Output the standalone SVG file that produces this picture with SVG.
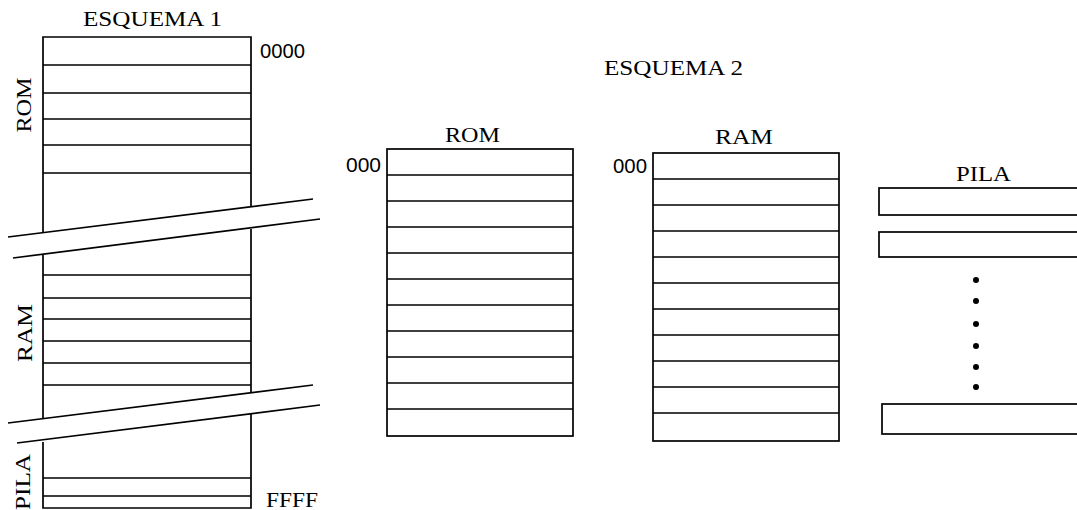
<svg xmlns="http://www.w3.org/2000/svg" width="1077" height="510" viewBox="0 0 1077 510">
<style>
.ln{stroke:#000;stroke-width:1.7;fill:none}
.bx{stroke:#000;stroke-width:1.7;fill:#fff}
.sf{font-family:"Liberation Serif",serif;font-size:22px;fill:#000}
.ss{font-family:"Liberation Sans",sans-serif;font-size:21px;fill:#000}
</style>
<rect width="1077" height="510" fill="#fff"/>
<g id="esquema1">
<text class="sf" x="83" y="26" textLength="139" lengthAdjust="spacingAndGlyphs">ESQUEMA 1</text>
<text class="ss" x="260" y="58" textLength="45" lengthAdjust="spacingAndGlyphs">0000</text>
<text class="sf" x="266" y="507" textLength="52" lengthAdjust="spacingAndGlyphs">FFFF</text>
<text class="sf" transform="translate(31,105) rotate(-90)" text-anchor="middle" textLength="55" lengthAdjust="spacingAndGlyphs">ROM</text>
<text class="sf" transform="translate(32,333) rotate(-90)" text-anchor="middle" textLength="58" lengthAdjust="spacingAndGlyphs">RAM</text>
<text class="sf" transform="translate(30,482) rotate(-90)" text-anchor="middle" textLength="56" lengthAdjust="spacingAndGlyphs">PILA</text>
<path class="ln" d="M43,232 V37 H251 V207 M43,65 H251 M43,93 H251 M43,119 H251 M43,145 H251 M43,173 H251"/>
<path class="ln" d="M43,419 V255 M251,229 V393 M43,275 H251 M43,298 H251 M43,319 H251 M43,341 H251 M43,363 H251 M43,385 H251"/>
<path class="ln" d="M43,442 V508 H251 V414 M43,478 H251 M43,496 H251"/>
<path class="ln" d="M8,237 L313,199 M13,258 L320,219 M8,423 L313,385 M17,443 L320,405"/>
</g>
<g id="esquema2-title">
<text class="sf" x="604" y="75" textLength="139" lengthAdjust="spacingAndGlyphs">ESQUEMA 2</text>
</g>
<g id="rom">
<text class="sf" x="445" y="142" textLength="55" lengthAdjust="spacingAndGlyphs">ROM</text>
<text class="ss" x="346" y="172" textLength="35" lengthAdjust="spacingAndGlyphs">000</text>
<rect class="bx" x="387" y="149" width="186" height="287"/>
<path class="ln" d="M387,175 H573 M387,201 H573 M387,227 H573 M387,253 H573 M387,279 H573 M387,305 H573 M387,331 H573 M387,357 H573 M387,383 H573 M387,409 H573"/>
</g>
<g id="ram">
<text class="sf" x="715" y="144" textLength="58" lengthAdjust="spacingAndGlyphs">RAM</text>
<text class="ss" x="613" y="173" textLength="34" lengthAdjust="spacingAndGlyphs">000</text>
<rect class="bx" x="653" y="153" width="186" height="288"/>
<path class="ln" d="M653,179 H839 M653,205 H839 M653,231 H839 M653,257 H839 M653,283 H839 M653,309 H839 M653,335 H839 M653,361 H839 M653,387 H839 M653,413 H839"/>
</g>
<g id="pila">
<text class="sf" x="956" y="181" textLength="55" lengthAdjust="spacingAndGlyphs">PILA</text>
<rect class="bx" x="879" y="188" width="220" height="27"/>
<rect class="bx" x="879" y="232" width="220" height="25"/>
<rect class="bx" x="882" y="404" width="220" height="30"/>
<g fill="#000">
<circle cx="976" cy="280" r="3"/>
<circle cx="976" cy="301" r="3"/>
<circle cx="976" cy="324" r="3"/>
<circle cx="976" cy="346" r="3"/>
<circle cx="976" cy="367" r="3"/>
<circle cx="976" cy="387" r="3"/>
</g>
</g>
<g id="connectors"></g>
</svg>
